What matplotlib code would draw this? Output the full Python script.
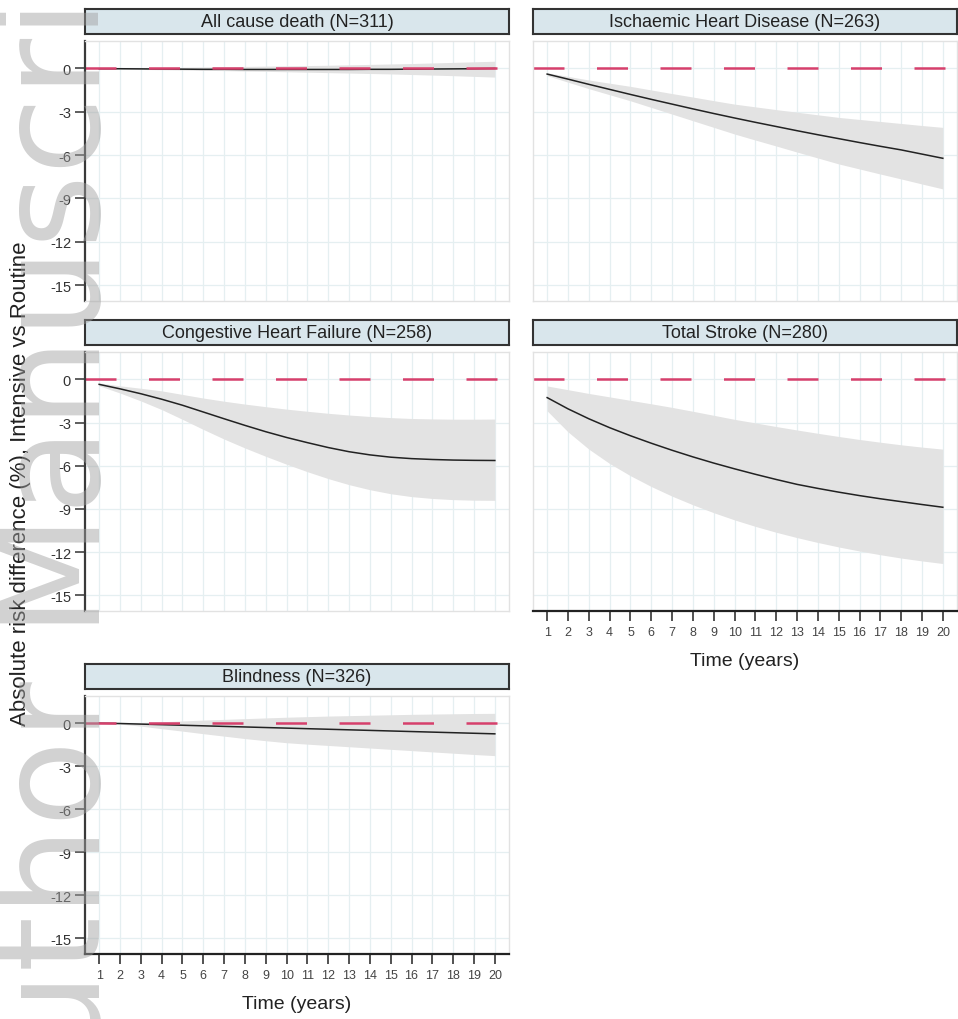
import matplotlib.pyplot as plt

plt.rcParams['font.family'] = ['Liberation Sans', 'DejaVu Sans']
plt.rcParams['axes.unicode_minus'] = False

years = list(range(1, 21))

titles = ['All cause death (N=311)', 'Ischaemic Heart Disease (N=263)',
          'Congestive Heart Failure (N=258)', 'Total Stroke (N=280)',
          'Blindness (N=326)']

# risk difference (%) and 95% CI per outcome, read at each year
acd_est = [-0.02, -0.02, -0.03, -0.04, -0.05, -0.06, -0.06, -0.07, -0.07, -0.07,
           -0.07, -0.07, -0.07, -0.06, -0.06, -0.05, -0.04, -0.03, -0.02, 0.0]
acd_hi = [0.0, 0.02, 0.04, 0.06, 0.08, 0.1, 0.12, 0.14, 0.16, 0.18,
          0.2, 0.22, 0.25, 0.28, 0.31, 0.34, 0.38, 0.42, 0.46, 0.5]
acd_lo = [-0.03, -0.05, -0.07, -0.09, -0.11, -0.13, -0.15, -0.18, -0.2, -0.23,
          -0.26, -0.29, -0.32, -0.35, -0.38, -0.42, -0.46, -0.5, -0.55, -0.6]

ihd_est = [-0.39, -0.74, -1.1, -1.45, -1.8, -2.14, -2.47, -2.8, -3.12, -3.43,
           -3.73, -4.02, -4.31, -4.59, -4.86, -5.13, -5.39, -5.64, -5.93, -6.22]
ihd_hi = [-0.3, -0.55, -0.8, -1.02, -1.24, -1.49, -1.74, -1.98, -2.23, -2.47,
          -2.66, -2.85, -3.03, -3.21, -3.39, -3.53, -3.67, -3.81, -3.95, -4.08]
ihd_lo = [-0.5, -0.95, -1.4, -1.82, -2.24, -2.7, -3.16, -3.62, -4.08, -4.54,
          -4.96, -5.37, -5.79, -6.2, -6.61, -6.96, -7.31, -7.65, -8.0, -8.34]

chf_est = [-0.35, -0.66, -1.0, -1.38, -1.8, -2.27, -2.74, -3.2, -3.64, -4.04,
           -4.4, -4.74, -5.03, -5.25, -5.41, -5.51, -5.57, -5.61, -5.63, -5.64]
chf_hi = [-0.25, -0.45, -0.62, -0.8, -1.05, -1.3, -1.52, -1.72, -1.9, -2.07,
          -2.22, -2.36, -2.48, -2.58, -2.66, -2.72, -2.75, -2.77, -2.77, -2.76]
chf_lo = [-0.45, -0.95, -1.5, -2.1, -2.78, -3.48, -4.15, -4.77, -5.35, -5.9,
          -6.42, -6.9, -7.32, -7.67, -7.95, -8.15, -8.28, -8.36, -8.4, -8.41]

stroke_est = [-1.27, -2.05, -2.74, -3.36, -3.92, -4.44, -4.93, -5.39, -5.82, -6.22,
              -6.6, -6.96, -7.3, -7.58, -7.84, -8.08, -8.3, -8.5, -8.7, -8.89]
stroke_hi = [-0.46, -0.72, -0.98, -1.22, -1.46, -1.7, -1.95, -2.22, -2.5, -2.78,
             -3.03, -3.28, -3.52, -3.75, -3.97, -4.18, -4.37, -4.55, -4.71, -4.85]
stroke_lo = [-2.19, -3.65, -4.85, -5.85, -6.7, -7.45, -8.12, -8.72, -9.27, -9.77,
             -10.22, -10.63, -11.0, -11.34, -11.65, -11.93, -12.19, -12.42, -12.62, -12.8]

blind_est = [0.0, -0.02, -0.06, -0.1, -0.14, -0.18, -0.22, -0.26, -0.3, -0.34,
             -0.38, -0.42, -0.46, -0.5, -0.54, -0.58, -0.62, -0.66, -0.7, -0.74]
blind_hi = [0.0, 0.0, 0.05, 0.1, 0.16, 0.22, 0.27, 0.32, 0.37, 0.42,
            0.46, 0.5, 0.53, 0.56, 0.59, 0.62, 0.64, 0.66, 0.68, 0.69]
blind_lo = [0.0, -0.06, -0.2, -0.38, -0.55, -0.73, -0.9, -1.07, -1.22, -1.36,
            -1.46, -1.55, -1.64, -1.73, -1.82, -1.91, -2.0, -2.09, -2.18, -2.26]

yticks = [0, -3, -6, -9, -12, -15]

W, H = 958, 1020
fig = plt.figure(figsize=(W / 100, H / 100), dpi=100)


def px_axes(x0, y0, x1, y1):
    return fig.add_axes([x0 / W, 1 - y1 / H, (x1 - x0) / W, (y1 - y0) / H])


# (x0, y0, x1, y1, show y axis, show x axis)
panels = [
    (85, 42, 509, 302, True, False),
    (533, 42, 957, 302, False, False),
    (85, 353, 509, 612, True, False),
    (533, 353, 957, 612, False, True),
    (85, 697, 509, 955, True, True),
]
series = [(acd_est, acd_lo, acd_hi), (ihd_est, ihd_lo, ihd_hi),
          (chf_est, chf_lo, chf_hi), (stroke_est, stroke_lo, stroke_hi),
          (blind_est, blind_lo, blind_hi)]

for (x0, y0, x1, y1, show_y, show_x), title, (est, lo, hi) in zip(panels, titles, series):
    ax = px_axes(x0, y0, x1, y1)
    ax.set_xlim(0.32, 20.68)
    ax.set_ylim(-16.1, 1.9)
    ax.set_axisbelow(True)
    ax.grid(True, color='#e5eff1', lw=0.9)
    ax.fill_between(years, lo, hi, color='#e3e3e3', lw=0)
    ax.plot(years, est, color='#222222', lw=1.1)
    ax.plot([0.32, 20.2], [0, 0], color='#d6406c', lw=1.8,
            dashes=(12.4, 13.0), dash_capstyle='butt')

    ax.set_xticks(years)
    ax.set_yticks(yticks)
    for s in ax.spines.values():
        s.set_color('#e2e2e2')
        s.set_linewidth(1.0)
    if show_y:
        ax.spines['left'].set_color('#3a3a3a')
        ax.spines['left'].set_linewidth(1.6)
        ax.tick_params(axis='y', length=7, width=1.1, color='#333333',
                       labelsize=10.5, labelcolor='#333333', pad=3)
    else:
        ax.tick_params(axis='y', length=0, labelleft=False)
    if show_x:
        ax.spines['bottom'].set_color('#222222')
        ax.spines['bottom'].set_linewidth(1.6)
        ax.tick_params(axis='x', length=7, width=1.1, color='#222222',
                       labelsize=9, labelcolor='#444444', pad=3.5)
        fig.text((x0 + x1) / 2 / W, 1 - (y1 + 50) / H, 'Time (years)',
                 ha='center', va='center', fontsize=14, color='#222222')
    else:
        ax.tick_params(axis='x', length=0, labelbottom=False)

    # strip label above the panel
    sx = px_axes(x0, y0 - 32, x1, y0 - 7)
    sx.set_facecolor('#d9e6ec')
    sx.set_xticks([])
    sx.set_yticks([])
    for s in sx.spines.values():
        s.set_color('#333333')
        s.set_linewidth(1.5)
    sx.text(0.5, 0.5, title, ha='center', va='center', fontsize=13,
            color='#222222', transform=sx.transAxes)

fig.text(21 / W, 1 - 484 / H, 'Absolute risk difference (%), Intensive vs Routine',
         rotation=90, ha='center', va='center', fontsize=16, color='#222222')

# watermark
fig.text(100 / W, 1 - 1158 / H, 'Author Manuscript', rotation=90,
         rotation_mode='anchor', ha='left', va='baseline', fontsize=102,
         family='DejaVu Sans', color='#a0a0a0', alpha=0.48, zorder=10)

fig.savefig('out.png', dpi=100)
